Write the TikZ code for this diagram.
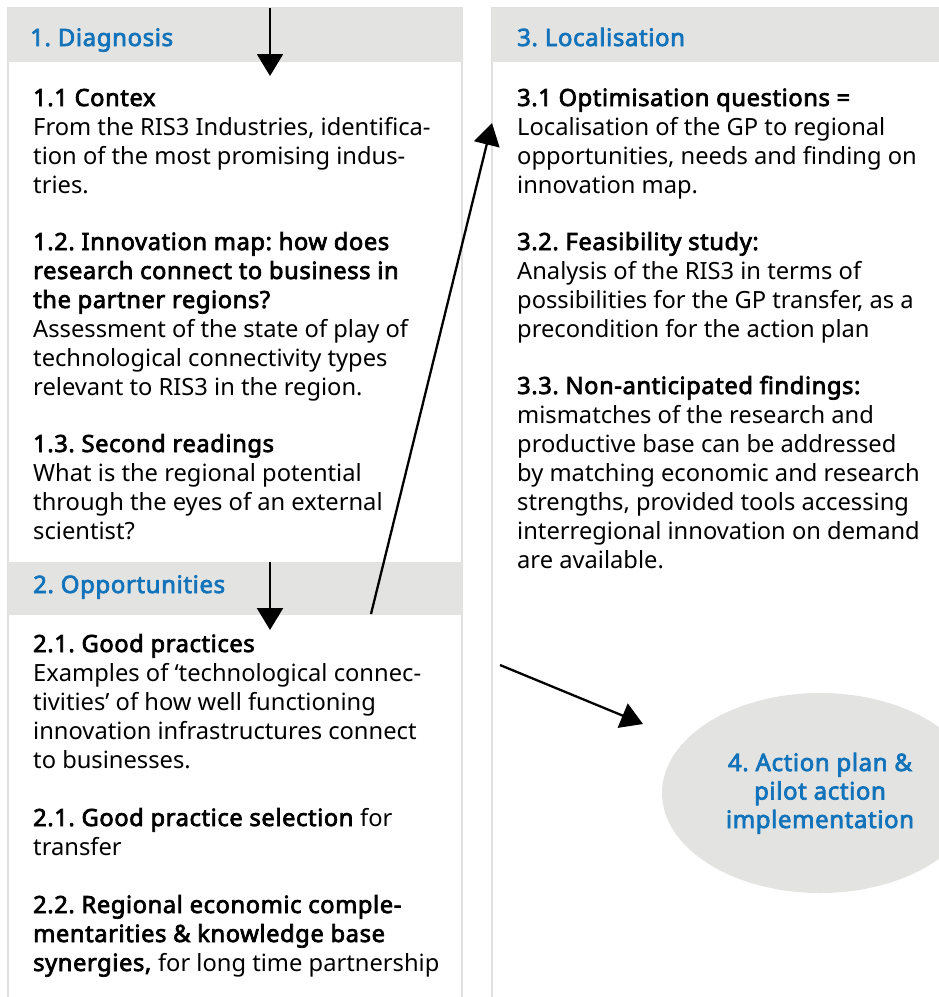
\documentclass[tikz,border=0pt]{standalone}
\usepackage{fontspec}
\setmainfont{Noto Sans}[BoldFont={Noto Sans},BoldFeatures={FakeBold=3,LetterSpace=2.5}]
\usetikzlibrary{arrows.meta,shapes.geometric}
\definecolor{hdrblue}{RGB}{18,115,187}
\definecolor{hdrgray}{RGB}{227,227,226}
\definecolor{linegray}{RGB}{224,224,224}
\tikzset{
  colbox/.style={draw=linegray,line width=1.3pt},
  hdrbar/.style={fill=hdrgray,draw=none},
  hdrtext/.style={anchor=base west,inner sep=0pt,text=hdrblue,font=\fontsize{24}{29}\selectfont\bfseries},
  body/.style={anchor=base west,inner sep=0pt},
  flow/.style={line width=2.3pt,-{Triangle[length=22pt,width=26pt]}},
  actell/.style={ellipse,fill=hdrgray,draw=none,minimum width=316pt,minimum height=200pt,inner sep=0pt},
  acttext/.style={anchor=base,inner sep=0pt,text=hdrblue,font=\fontsize{24}{28.5}\selectfont\bfseries}
}
\newcommand{\blk}[1]{\parbox[t]{470pt}{\fontsize{23.7}{29}\selectfont\raggedright\frenchspacing #1}}
\begin{document}
\frenchspacing
\begin{tikzpicture}[x=1pt,y=-1pt]
\useasboundingbox (0,0) rectangle (939,997);
% ellipse first (behind)
\begin{scope}
\clip (0,0) rectangle (939,997);
\node[actell] (act) at (820,793) {};
\end{scope}
% columns
\draw[colbox] (8,1010) -- (8,8) -- (462,8) -- (462,1010);
\draw[colbox] (492,1010) -- (492,8) -- (945,8);
\fill[hdrgray] (8,8) rectangle (462,62);
\fill[hdrgray] (8,562) rectangle (462,615);
\fill[hdrgray] (492,8) rectangle (945,62);
\node[hdrtext] (h1) at (30,46) {1. Diagnosis};
\node[hdrtext] (h2) at (33,593) {2. Opportunities};
\node[hdrtext] (h3) at (517,46) {3. Localisation};
% left column text
\node[body] (b11) at (33,106) {\blk{\textbf{1.1 Contex}\\From the RIS3 Industries, identifica-\\tion of the most promising indus-\\tries.}};
\node[body] (b12) at (33,250) {\blk{\textbf{1.2. Innovation map: how does}\\\textbf{research connect to business in}\\\textbf{the partner regions?}\\Assessment of the state of play of\\technological connectivity types\\relevant to RIS3 in the region.}};
\node[body] (b13) at (33,452) {\blk{\textbf{1.3. Second readings}\\What is the regional potential\\through the eyes of an external\\scientist?}};
\node[body] (b21) at (33,652) {\blk{\textbf{2.1. Good practices}\\Examples of ‘technological connec-\\tivities’ of how well functioning\\innovation infrastructures connect\\to businesses.}};
\node[body] (b22) at (33,826) {\blk{\textbf{2.1. Good practice selection} for\\transfer}};
\node[body] (b23) at (33,913) {\blk{\textbf{2.2. Regional economic comple-}\\\textbf{mentarities \& knowledge base}\\\textbf{synergies,} for long time partnership}};
% right column text
\node[body] (b31) at (517,106) {\blk{\textbf{3.1 Optimisation questions =}\\Localisation of the GP to regional\\opportunities, needs and finding on\\innovation map.}};
\node[body] (b32) at (517,250) {\blk{\textbf{3.2. Feasibility study:}\\Analysis of the RIS3 in terms of\\possibilities for the GP transfer, as a\\precondition for the action plan}};
\node[body] (b33) at (517,394) {\blk{\textbf{3.3. Non-anticipated findings:}\\mismatches of the research and\\productive base can be addressed\\by matching economic and research\\strengths, provided tools accessing\\interregional innovation on demand\\are available.}};
% ellipse text
\node[acttext] (acttxt) at (820,771) {4. Action plan \&};
\node[acttext] (acttxt2) at (820,799.5) {pilot action};
\node[acttext] (acttxt3) at (820,828) {implementation};
% arrows
\coordinate (a1s) at (270,8);
\coordinate (a1e) at (270,76);
\coordinate (a2s) at (270,562);
\coordinate (a2e) at (270,630);
\coordinate (a3s) at (371,614);
\coordinate (a3e) at (492,123);
\coordinate (a4s) at (500,665);
\coordinate (a4e) at (643,724);
\draw[flow] (a1s) -- (a1e);
\draw[flow] (a2s) -- (a2e);
\draw[flow] (a3s) -- (a3e);
\draw[flow] (a4s) -- (a4e);
\end{tikzpicture}
\end{document}
